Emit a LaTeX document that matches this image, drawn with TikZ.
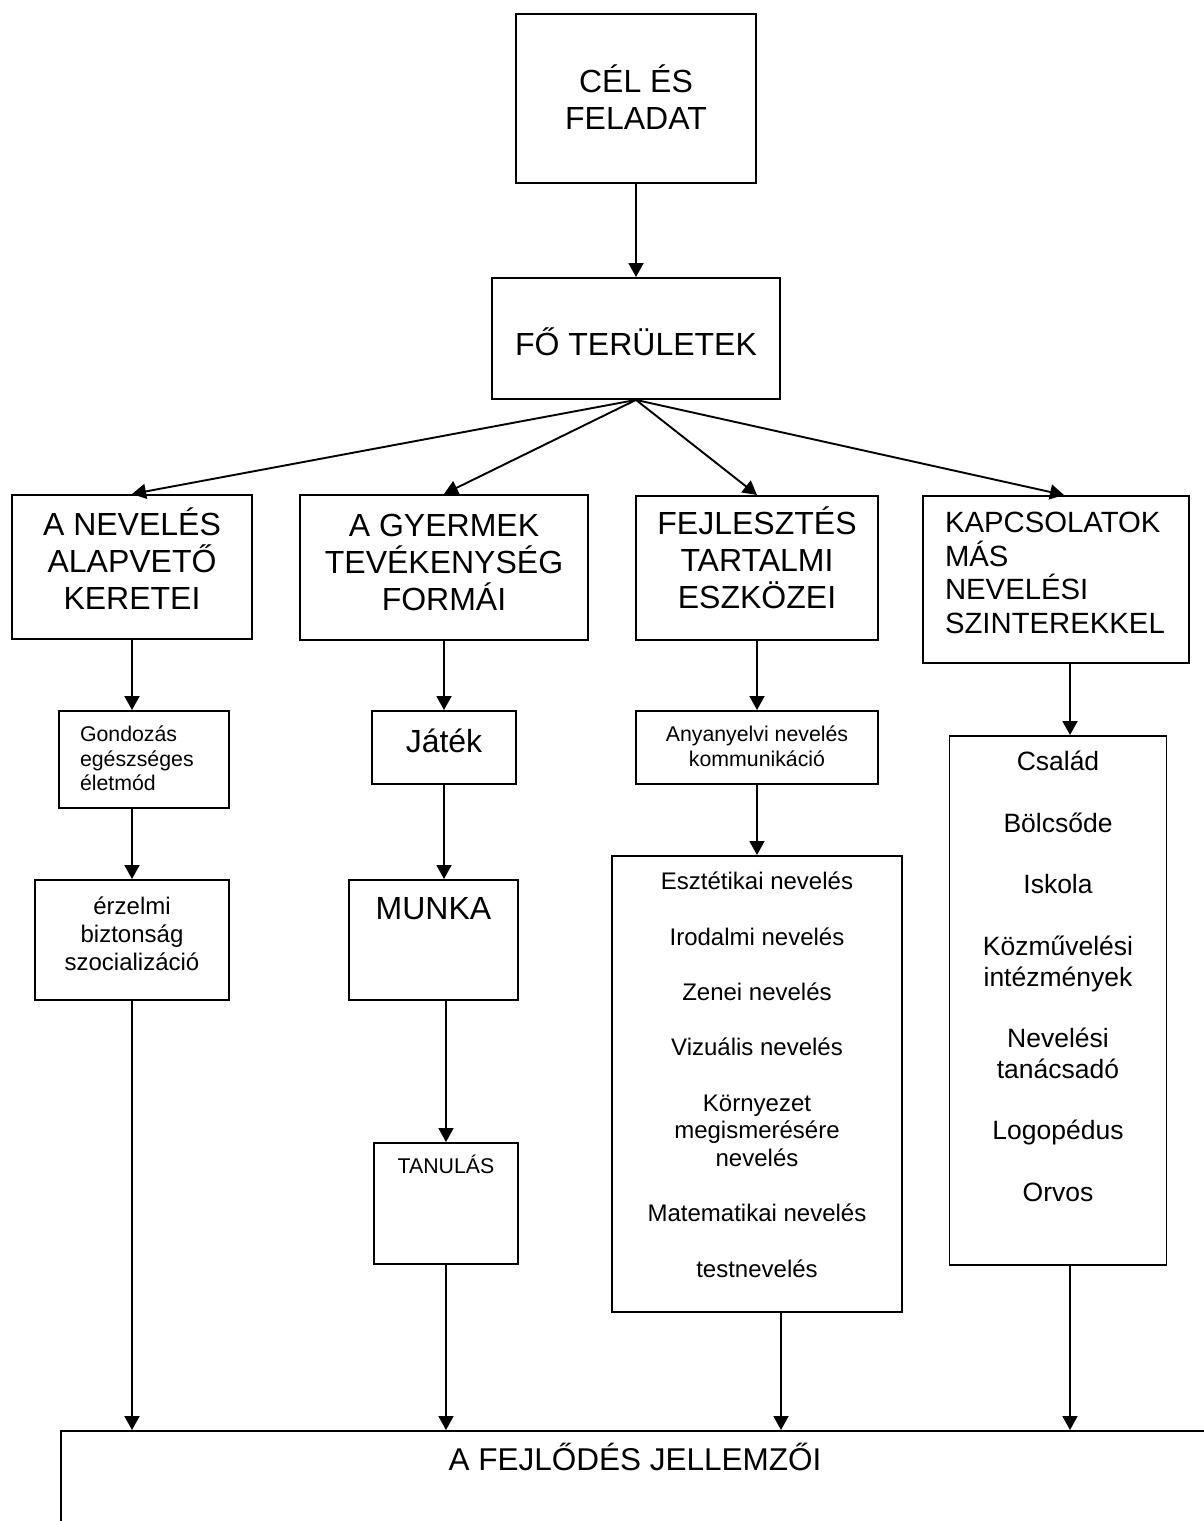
\documentclass[tikz,border=0pt]{standalone}
\usepackage{fontspec}
\setmainfont{Liberation Sans}
\usepackage{tikz}
\usetikzlibrary{arrows.meta}

\tikzset{
    doboz/.style={draw, line width=1.9pt, inner sep=0pt, anchor=north},
    nyil/.style={line width=1.9pt, -{Triangle[length=14pt,width=15pt]}},
    nagy/.style={font=\fontsize{32}{36.8}\selectfont},
    kapcs/.style={font=\fontsize{29.3}{33.5}\selectfont},
    kozep/.style={font=\fontsize{26.5}{30.75}\selectfont},
    kicsi/.style={font=\fontsize{24}{27.65}\selectfont},
    apro/.style={font=\fontsize{21.3}{24.5}\selectfont},
}

\begin{document}
\begin{tikzpicture}[x=1pt, y=-1pt]
    \useasboundingbox (0,0) rectangle (1204,1521);

    % felso ket doboz
    \node[doboz, nagy, minimum width=240pt, text height=79pt, text depth=90pt] (cel) at (636,13)
        {\parbox[t]{230pt}{\centering CÉL ÉS\\FELADAT}};
    \node[doboz, nagy, minimum width=288pt, text height=78pt, text depth=43pt] (fo) at (636,277)
        {FŐ TERÜLETEK};

    % negy fo terulet
    \node[doboz, nagy, minimum width=240pt, text height=41pt, text depth=103pt] (k1) at (132,494)
        {\parbox[t]{230pt}{\centering A NEVELÉS\\ALAPVETŐ\\KERETEI}};
    \node[doboz, nagy, minimum width=288pt, text height=42pt, text depth=103pt] (k2) at (444,494)
        {\parbox[t]{280pt}{\centering A GYERMEK\\TEVÉKENYSÉG\\FORMÁI}};
    \node[doboz, nagy, minimum width=242pt, text height=39pt, text depth=105pt] (k3) at (757,495)
        {\parbox[t]{232pt}{\centering FEJLESZTÉS\\TARTALMI\\ESZKÖZEI}};
    \node[doboz, kapcs, minimum width=266pt, text height=37pt, text depth=130pt] (k4) at (1056,495)
        {\parbox[t]{222pt}{\raggedright KAPCSOLATOK\\MÁS\\NEVELÉSI\\SZINTEREKKEL}};

    % masodik sor
    \node[doboz, apro, minimum width=170pt, text height=31pt, text depth=66pt] (gond) at (144,710)
        {\parbox[t]{128pt}{\raggedright Gondozás\\egészséges\\életmód}};
    \node[doboz, nagy, minimum width=144pt, text height=42pt, text depth=31pt] (jatek) at (444,710)
        {Játék};
    \node[doboz, apro, minimum width=242pt, text height=31pt, text depth=42pt] (anya) at (757,710)
        {\parbox[t]{232pt}{\centering Anyanyelvi nevelés\\kommunikáció}};
    \node[doboz, kozep, minimum width=217pt, text height=35pt, text depth=494pt] (csal) at (1058,735)
        {\parbox[t]{210pt}{\centering Család\\[\baselineskip]Bölcsőde\\[\baselineskip]Iskola\\[\baselineskip]%
        Közművelési\\intézmények\\[\baselineskip]Nevelési\\tanácsadó\\[\baselineskip]Logopédus\\[\baselineskip]Orvos}};

    % harmadik sor
    \node[doboz, kicsi, minimum width=194pt, text height=35pt, text depth=85pt] (erz) at (132,879)
        {\parbox[t]{186pt}{\centering érzelmi\\biztonság\\szocializáció}};
    \node[doboz, nagy, minimum width=169pt, text height=40pt, text depth=80pt] (munka) at (433.5,879)
        {MUNKA};
    \node[doboz, kicsi, minimum width=290pt, text height=34pt, text depth=422pt] (eszt) at (757,855)
        {\parbox[t]{280pt}{\centering Esztétikai nevelés\\[\baselineskip]Irodalmi nevelés\\[\baselineskip]%
        Zenei nevelés\\[\baselineskip]Vizuális nevelés\\[\baselineskip]Környezet\\megismerésére\\nevelés\\[\baselineskip]%
        Matematikai nevelés\\[\baselineskip]testnevelés}};
    \node[doboz, apro, minimum width=144pt, text height=31pt, text depth=90pt] (tanul) at (446,1142)
        {TANULÁS};

    % also doboz, kilog a lapbol
    \node[doboz, font=\fontsize{31.5}{36}\selectfont, minimum width=1148pt, text height=40pt, text depth=150pt] (fejl) at (635,1430)
        {A FEJLŐDÉS JELLEMZŐI};

    \coordinate (o3) at (781,0);
    \coordinate (o4) at (1070,0);

    % nyilak
    \draw[nyil] (cel.south) -- (fo.north);
    \foreach \d in {k1,k2,k3} {
            \draw[nyil] (fo.south) -- (\d.north);
        }
    \draw[nyil] (fo.south) -- ([xshift=8pt]k4.north);

    \draw[nyil] (k1.south) -- (k1.south |- gond.north);
    \draw[nyil] (gond.south -| erz.north) -- (erz.north);
    \draw[nyil] (erz.south) -- (erz.south |- fejl.north);

    \draw[nyil] (k2.south) -- (k2.south |- jatek.north);
    \draw[nyil] (jatek.south) -- (jatek.south |- munka.north);
    \draw[nyil] (munka.south -| tanul.north) -- (tanul.north);
    \draw[nyil] (tanul.south) -- (tanul.south |- fejl.north);

    \draw[nyil] (k3.south) -- (anya.north);
    \draw[nyil] (anya.south) -- (eszt.north);
    \draw[nyil] (eszt.south -| o3) -- (fejl.north -| o3);

    \draw[nyil] (k4.south -| o4) -- (csal.north -| o4);
    \draw[nyil] (csal.south -| o4) -- (fejl.north -| o4);
\end{tikzpicture}
\end{document}
